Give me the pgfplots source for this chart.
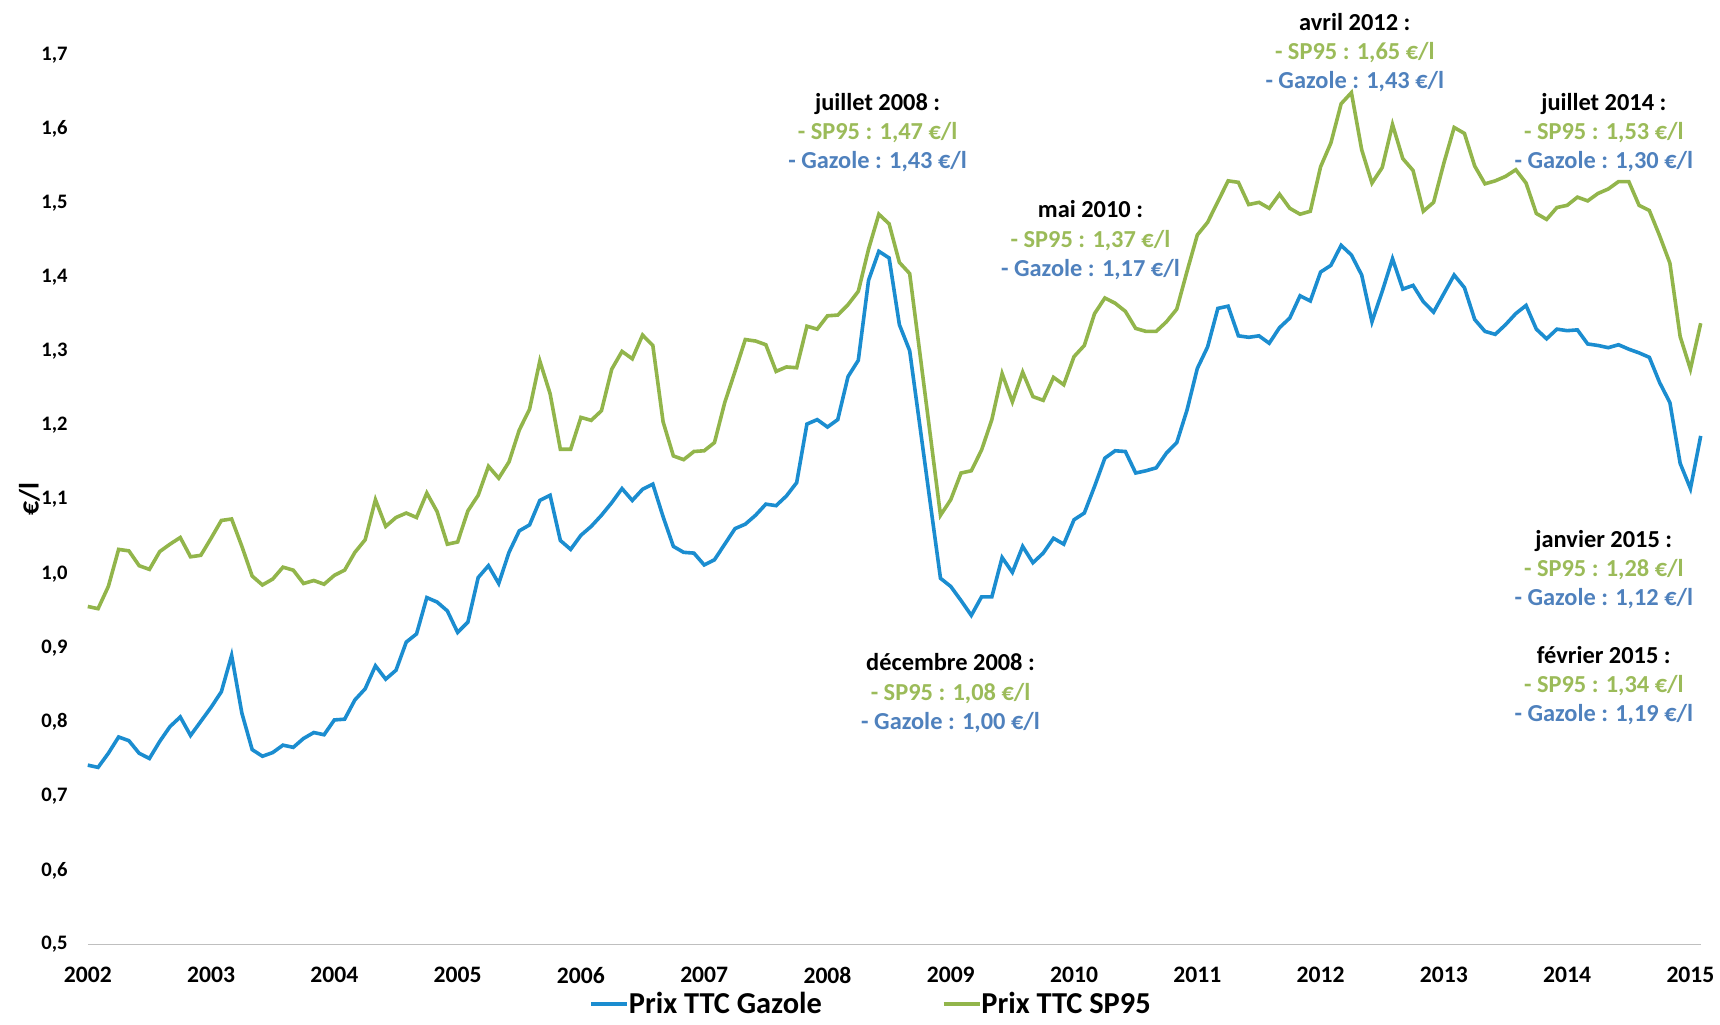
\documentclass[border=0pt]{standalone}
\usepackage{pgfplots}
\pgfplotsset{compat=1.18}
\usepackage{fontspec}
\setmainfont{Carlito}
\definecolor{gzline}{HTML}{1B8DD0}
\definecolor{spline}{HTML}{92B54B}
\definecolor{gztext}{HTML}{4F81BD}
\definecolor{sptext}{HTML}{9BBB59}
\pgfplotstableread{
i v
0 0.742
1 0.739
2 0.758
3 0.780
4 0.775
5 0.758
6 0.751
7 0.774
8 0.794
9 0.807
10 0.782
11 0.801
12 0.820
13 0.841
14 0.890
15 0.812
16 0.763
17 0.754
18 0.759
19 0.769
20 0.766
21 0.778
22 0.786
23 0.783
24 0.803
25 0.804
26 0.830
27 0.845
28 0.876
29 0.858
30 0.870
31 0.908
32 0.919
33 0.968
34 0.962
35 0.950
36 0.921
37 0.935
38 0.995
39 1.011
40 0.987
41 1.029
42 1.058
43 1.066
44 1.099
45 1.106
46 1.045
47 1.033
48 1.052
49 1.064
50 1.079
51 1.096
52 1.115
53 1.099
54 1.114
55 1.121
56 1.077
57 1.037
58 1.029
59 1.028
60 1.012
61 1.019
62 1.040
63 1.061
64 1.067
65 1.079
66 1.094
67 1.092
68 1.105
69 1.123
70 1.202
71 1.208
72 1.198
73 1.208
74 1.266
75 1.288
76 1.396
77 1.435
78 1.426
79 1.336
80 1.301
81 1.199
82 1.096
83 0.994
84 0.983
85 0.964
86 0.944
87 0.969
88 0.969
89 1.022
90 1.002
91 1.037
92 1.015
93 1.028
94 1.048
95 1.040
96 1.073
97 1.082
98 1.118
99 1.156
100 1.166
101 1.165
102 1.136
103 1.139
104 1.143
105 1.163
106 1.177
107 1.221
108 1.277
109 1.306
110 1.358
111 1.361
112 1.321
113 1.319
114 1.321
115 1.311
116 1.332
117 1.345
118 1.375
119 1.368
120 1.407
121 1.416
122 1.443
123 1.430
124 1.403
125 1.340
126 1.381
127 1.425
128 1.384
129 1.389
130 1.367
131 1.353
132 1.378
133 1.403
134 1.386
135 1.343
136 1.327
137 1.323
138 1.336
139 1.351
140 1.362
141 1.330
142 1.317
143 1.330
144 1.328
145 1.329
146 1.310
147 1.308
148 1.305
149 1.309
150 1.303
151 1.298
152 1.292
153 1.258
154 1.231
155 1.149
156 1.115
157 1.186
}\gazole
\pgfplotstableread{
i v
0 0.956
1 0.953
2 0.983
3 1.033
4 1.031
5 1.011
6 1.006
7 1.030
8 1.040
9 1.049
10 1.023
11 1.025
12 1.048
13 1.072
14 1.074
15 1.037
16 0.997
17 0.985
18 0.993
19 1.009
20 1.005
21 0.987
22 0.991
23 0.986
24 0.998
25 1.005
26 1.029
27 1.046
28 1.100
29 1.064
30 1.076
31 1.082
32 1.076
33 1.109
34 1.084
35 1.040
36 1.043
37 1.085
38 1.106
39 1.145
40 1.129
41 1.151
42 1.194
43 1.222
44 1.287
45 1.243
46 1.168
47 1.168
48 1.211
49 1.207
50 1.220
51 1.276
52 1.300
53 1.290
54 1.322
55 1.308
56 1.205
57 1.159
58 1.154
59 1.165
60 1.166
61 1.177
62 1.231
63 1.273
64 1.316
65 1.314
66 1.309
67 1.273
68 1.279
69 1.278
70 1.334
71 1.330
72 1.348
73 1.349
74 1.363
75 1.381
76 1.438
77 1.485
78 1.472
79 1.420
80 1.405
81 1.297
82 1.188
83 1.079
84 1.100
85 1.136
86 1.139
87 1.167
88 1.208
89 1.270
90 1.232
91 1.272
92 1.239
93 1.234
94 1.265
95 1.255
96 1.293
97 1.308
98 1.351
99 1.372
100 1.365
101 1.354
102 1.331
103 1.327
104 1.327
105 1.340
106 1.357
107 1.408
108 1.457
109 1.474
110 1.502
111 1.530
112 1.528
113 1.498
114 1.501
115 1.493
116 1.512
117 1.493
118 1.485
119 1.489
120 1.549
121 1.581
122 1.634
123 1.649
124 1.572
125 1.527
126 1.548
127 1.606
128 1.560
129 1.544
130 1.489
131 1.501
132 1.554
133 1.602
134 1.594
135 1.550
136 1.526
137 1.530
138 1.536
139 1.545
140 1.527
141 1.486
142 1.478
143 1.494
144 1.497
145 1.508
146 1.503
147 1.513
148 1.519
149 1.529
150 1.529
151 1.497
152 1.490
153 1.456
154 1.419
155 1.320
156 1.276
157 1.338
}\spnf
\begin{document}
\begin{tikzpicture}
\useasboundingbox (-43.9pt,-39.7pt) rectangle (816.1pt,472.3pt);
\begin{axis}[
  at={(0pt,0pt)}, anchor=south west,
  scale only axis, width=806.45pt, height=444.9pt,
  xmin=0, xmax=157, ymin=0.5, ymax=1.7,
  clip=false,
  axis x line*=bottom, axis y line*=left,
  x axis line style={draw=black!25, line width=0.7pt, -},
  y axis line style={draw=none},
  major tick length=0pt,
  xtick={0,12,24,36,48,60,72,84,96,108,120,132,144,156},
  xticklabels={2002,2003,2004,2005,2006,2007,2008,2009,2010,2011,2012,2013,2014,2015},
  ytick={0.5,0.6,0.7,0.8,0.9,1.0,1.1,1.2,1.3,1.4,1.5,1.6,1.7},
  yticklabels={{0,5},{0,6},{0,7},{0,8},{0,9},{1,0},{1,1},{1,2},{1,3},{1,4},{1,5},{1,6},{1,7}},
  xticklabel style={font=\fontsize{11.8}{13}\selectfont\bfseries, anchor=center, inner sep=0pt, yshift=-15.3pt},
  yticklabel style={font=\fontsize{10.3}{12}\selectfont\bfseries, anchor=east, inner sep=0pt, xshift=-9.9pt},
  legend columns=2,
  legend cell align=left,
  legend image code/.code={\draw[#1, line width=1.7pt] (0pt,0pt) -- (18pt,0pt);},
  legend style={at={(axis cs:48.79,0.42)}, anchor=west, draw=none, fill=none, inner sep=0pt,
    font=\fontsize{15.2}{16}\selectfont\bfseries,
    nodes={inner sep=0pt, anchor=west},
    /tikz/every even column/.append style={column sep=60pt}},
]
\addplot[gzline, line width=1.8pt] table[x=i, y=v] {\gazole};
\addlegendentry{Prix TTC Gazole}
\addplot[spline, line width=1.8pt] table[x=i, y=v] {\spnf};
\addlegendentry{Prix TTC SP95}

\tikzset{annot/.style={align=center, font=\fontsize{12.2}{14.6}\selectfont\bfseries, text=black}}
\node[rotate=90, font=\fontsize{14}{16}\selectfont\bfseries] at (axis cs:-5.67,1.101) {€/l};
\node[annot] at (axis cs:76.88,1.595) {juillet 2008 :\\\textcolor{sptext}{- SP95 : 1,47 €/l}\\\textcolor{gztext}{- Gazole : 1,43 €/l}};
\node[annot] at (axis cs:97.6,1.450) {mai 2010 :\\\textcolor{sptext}{- SP95 : 1,37 €/l}\\\textcolor{gztext}{- Gazole : 1,17 €/l}};
\node[annot] at (axis cs:123.33,1.7028) {avril 2012 :\\\textcolor{sptext}{- SP95 : 1,65 €/l}\\\textcolor{gztext}{- Gazole : 1,43 €/l}};
\node[annot] at (axis cs:147.57,1.595) {juillet 2014 :\\\textcolor{sptext}{- SP95 : 1,53 €/l}\\\textcolor{gztext}{- Gazole : 1,30 €/l}};
\node[annot] at (axis cs:83.98,0.839) {décembre 2008 :\\\textcolor{sptext}{- SP95 : 1,08 €/l}\\\textcolor{gztext}{- Gazole : 1,00 €/l}};
\node[annot] at (axis cs:147.57,1.006) {janvier 2015 :\\\textcolor{sptext}{- SP95 : 1,28 €/l}\\\textcolor{gztext}{- Gazole : 1,12 €/l}};
\node[annot] at (axis cs:147.57,0.849) {février 2015 :\\\textcolor{sptext}{- SP95 : 1,34 €/l}\\\textcolor{gztext}{- Gazole : 1,19 €/l}};
\end{axis}
\end{tikzpicture}
\end{document}
